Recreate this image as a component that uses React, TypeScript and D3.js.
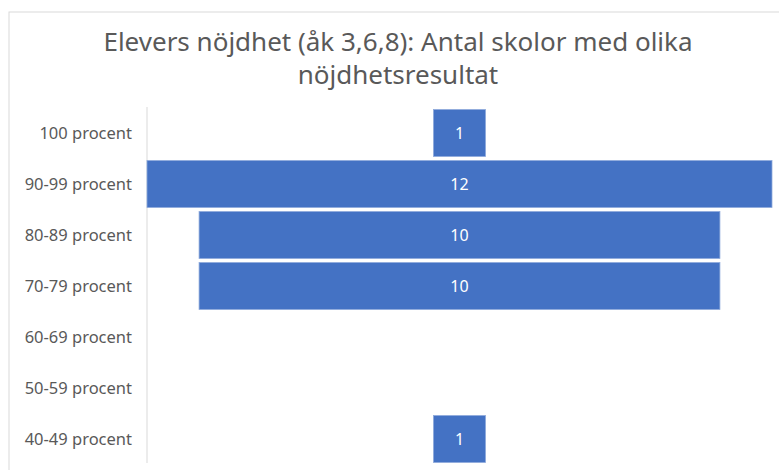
import React from "react";
import * as d3 from "d3";

const categories = [
  "100 procent",
  "90-99 procent",
  "80-89 procent",
  "70-79 procent",
  "60-69 procent",
  "50-59 procent",
  "40-49 procent",
];
const values = [1, 12, 10, 10, 0, 0, 1];
const titleLines = ["Elevers nöjdhet (åk 3,6,8): Antal skolor med olika", "nöjdhetsresultat"];

const W = 779;
const H = 470;
const FONT = "'Noto Sans', 'Open Sans', sans-serif";

export default function App() {
  const axisX = 147;
  const plotRight = 772;
  const center = (axisX + plotRight) / 2;
  const maxV = d3.max(values) as number;
  const w = d3.scaleLinear().domain([0, maxV]).range([0, plotRight - axisX]);
  const y = d3.scaleBand<string>().domain(categories).range([107.5, 464.5]).paddingInner(0.08).paddingOuter(0.04);

  return (
    <svg width={W} height={H} style={{ position: "absolute", left: 0, top: 0, background: "#fff" }}>
      <rect x={9} y={12} width={W} height={H} fill="#fff" stroke="#d9d9d9" strokeWidth={1} />
      {titleLines.map((t, i) => (
        <text key={i} x={398} y={51 + i * 33} textAnchor="middle" fontFamily={FONT} fontSize={26} fill="#595959">
          {t}
        </text>
      ))}
      <line x1={axisX} x2={axisX} y1={107} y2={463} stroke="#d9d9d9" strokeWidth={1} />
      {categories.map((c, i) => {
        const yy = (y(c) as number) + y.bandwidth() / 2;
        return (
          <text key={c} x={132} y={yy} dy="0.35em" textAnchor="end" fontFamily={FONT} fontSize={16.5} fill="#595959">
            {c}
          </text>
        );
      })}
      {categories.map((c, i) =>
        values[i] > 0 ? (
          <g key={c}>
            <rect
              x={center - w(values[i]) / 2}
              y={y(c) as number}
              width={w(values[i])}
              height={y.bandwidth()}
              fill="#4472C4"
              stroke="#8eaadb"
              strokeWidth={0.8}
            />
            <text
              x={center}
              y={(y(c) as number) + y.bandwidth() / 2}
              dy="0.35em"
              textAnchor="middle"
              fontFamily={FONT}
              fontSize={16}
              fill="#ffffff"
            >
              {values[i]}
            </text>
          </g>
        ) : null
      )}
    </svg>
  );
}
